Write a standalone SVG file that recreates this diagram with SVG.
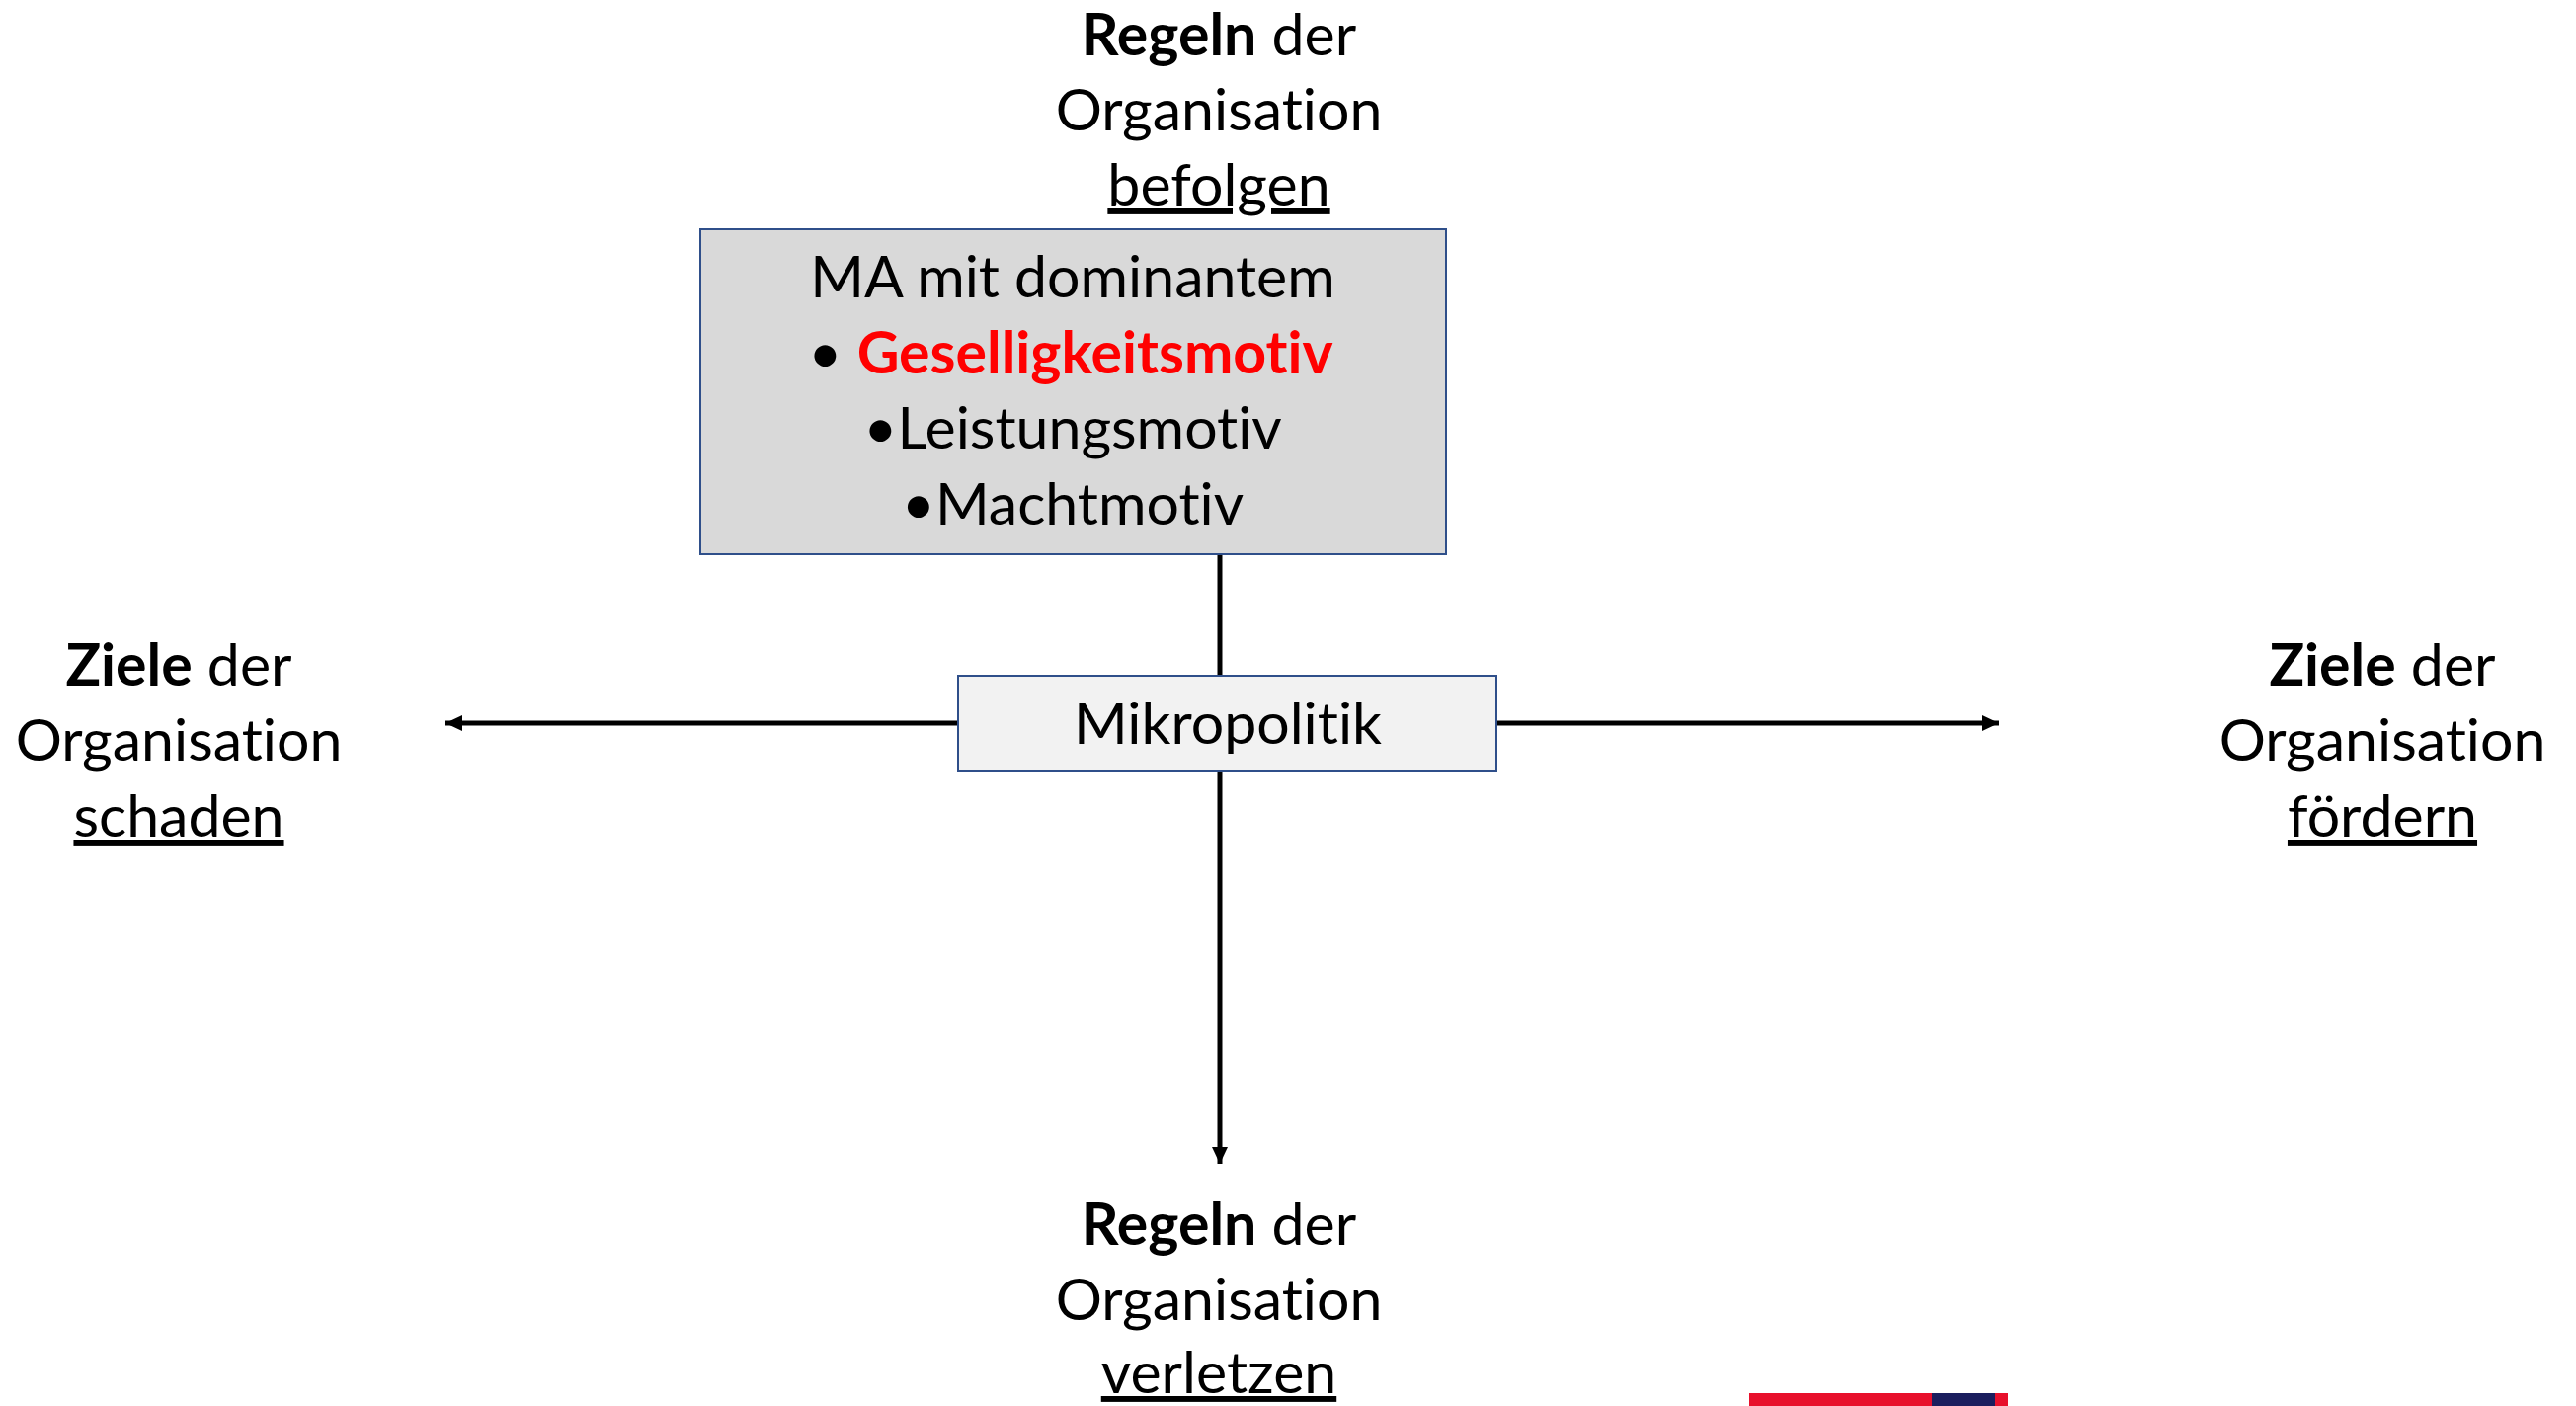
<svg xmlns="http://www.w3.org/2000/svg" width="2608" height="1423" viewBox="0 0 2608 1423">
<style>
.t{font-family:Lato,"Open Sans","Liberation Sans",sans-serif;font-size:59px;fill:#000;text-anchor:middle;font-variant-ligatures:none;font-feature-settings:"liga" 0}
.b{font-weight:bold}
.u{text-decoration:underline;text-underline-offset:10px;text-decoration-thickness:3px}
.con{stroke:#000;stroke-width:5;fill:none}
</style>
<defs>
<marker id="ah" markerUnits="userSpaceOnUse" markerWidth="18" markerHeight="16" refX="17" refY="8" orient="auto">
<path d="M0,0 L17,8 L0,16 Z" fill="#000"/>
</marker>
</defs>
<rect width="2608" height="1423" fill="#fff"/>
<g id="connectors">
<line class="con" x1="1235" y1="560" x2="1235" y2="685"/>
<line class="con" x1="1235" y1="780" x2="1235" y2="1178" marker-end="url(#ah)"/>
<line class="con" x1="970" y1="732" x2="451" y2="732" marker-end="url(#ah)"/>
<line class="con" x1="1515" y1="732" x2="2024" y2="732" marker-end="url(#ah)"/>
</g>
<g id="motive-box">
<rect x="709" y="232" width="755" height="329" fill="#d9d9d9" stroke="#2f4f8a" stroke-width="2"/>
<text class="t" x="1086" y="301">MA mit dominantem</text>
<text class="t" x="1084" y="378">• <tspan class="b" fill="#ff0000">Geselligkeitsmotiv</tspan></text>
<text class="t" x="1086" y="454">•Leistungsmotiv</text>
<text class="t" x="1086" y="531">•Machtmotiv</text>
</g>
<g id="mikropolitik">
<rect x="970" y="684" width="545" height="96" fill="#f2f2f2" stroke="#2f4f8a" stroke-width="2"/>
<text class="t" x="1243" y="753">Mikropolitik</text>
</g>
<g id="label-top">
<text class="t" x="1234" y="56"><tspan class="b">Regeln</tspan> der</text>
<text class="t" x="1234" y="132">Organisation</text>
<text class="t" x="1234" y="208"><tspan class="u">befolgen</tspan></text>
</g>
<g id="label-left">
<text class="t" x="181" y="694"><tspan class="b">Ziele</tspan> der</text>
<text class="t" x="181" y="770">Organisation</text>
<text class="t" x="181" y="847"><tspan class="u">schaden</tspan></text>
</g>
<g id="label-right">
<text class="t" x="2412" y="694"><tspan class="b">Ziele</tspan> der</text>
<text class="t" x="2412" y="770">Organisation</text>
<text class="t" x="2412" y="847"><tspan class="u">fördern</tspan></text>
</g>
<g id="label-bottom">
<text class="t" x="1234" y="1260"><tspan class="b">Regeln</tspan> der</text>
<text class="t" x="1234" y="1336">Organisation</text>
<text class="t" x="1234" y="1410"><tspan class="u">verletzen</tspan></text>
</g>
<g id="logo-bar">
<rect x="1771" y="1410" width="262" height="13" fill="#e8102c"/>
<rect x="1956" y="1410" width="64" height="13" fill="#1b1e5e"/>
</g>
</svg>
